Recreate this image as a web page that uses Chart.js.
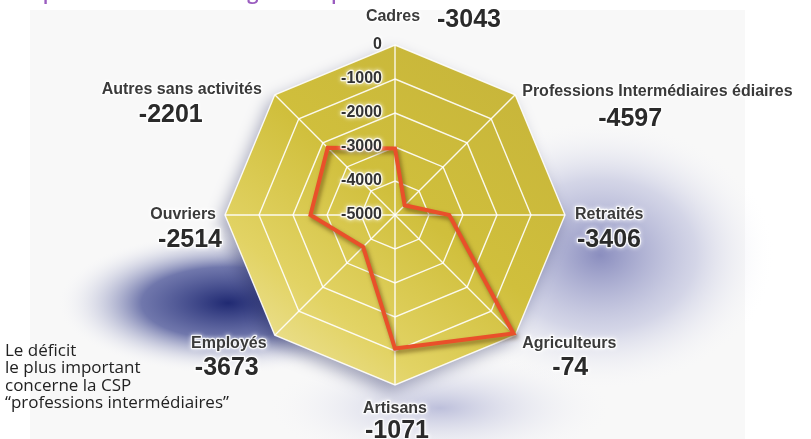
<!DOCTYPE html>
<html>
<head>
<meta charset="utf-8">
<script src="https://cdn.jsdelivr.net/npm/chart.js@4.4.1/dist/chart.umd.min.js"></script>
<style>
  html, body { margin: 0; padding: 0; background: #fff; }
  #wrap { width: 811px; height: 439px; position: relative; }
</style>
</head>
<body>
<div id="wrap"><canvas id="myChart" width="811" height="439"></canvas></div>
<script>
// categories (clockwise from the top) and their balance
var categories = ['Cadres', 'Professions Intermédiaires édiaires', 'Retraités', 'Agriculteurs',
                  'Artisans', 'Employés', 'Ouvriers', 'Autres sans activités']
var soldes = [-3043, -4597, -3406, -74, -1071, -3673, -2514, -2201]
var scaleMin = -5000
var scaleMax = 0
var scaleStep = 1000

var title = 'Répartition du solde migratoire par CSP'
var note = ['Le déficit', 'le plus important', 'concerne la CSP', '“professions intermédiaires”']

// where the name / value go, relative to each outer vertex
var labelPos = [
  { nx: -2, ny: -28, na: 'center', vx: 42, vy: -25, va: 'left' },
  { nx: 7, ny: -3, na: 'left', vx: 115, vy: 24, va: 'center', max: 286 },
  { nx: 10, ny: 0, na: 'left', vx: 12, vy: 25, va: 'left' },
  { nx: 7, ny: 8, na: 'left', vx: 55, vy: 33, va: 'center' },
  { nx: 0, ny: 24, na: 'center', vx: 2, vy: 46, va: 'center' },
  { nx: -46, ny: 8, na: 'center', vx: -48, vy: 33, va: 'center' },
  { nx: -9, ny: 0, na: 'right', vx: -3, vy: 25, va: 'right' },
  { nx: -13, ny: -5, na: 'right', vx: -104, vy: 20, va: 'center' }
]

function blob(ctx, x, y, sx, sy, r, stops) {
  ctx.save()
  ctx.translate(x, y)
  ctx.scale(sx, sy)
  var g = ctx.createRadialGradient(0, 0, 0, 0, 0, r)
  stops.forEach(function (s) { g.addColorStop(s[0], s[1]) })
  ctx.fillStyle = g
  ctx.fillRect(-r, -r, 2 * r, 2 * r)
  ctx.restore()
}

function glowText(ctx, txt, x, y, fill, maxW) {
  ctx.save()
  ctx.shadowColor = 'rgba(255,255,255,0.95)'
  ctx.shadowBlur = 4
  ctx.strokeStyle = 'rgba(255,255,255,0.8)'
  ctx.lineWidth = 2.5
  ctx.lineJoin = 'round'
  ctx.strokeText(txt, x, y, maxW)
  ctx.restore()
  ctx.fillStyle = fill
  ctx.fillText(txt, x, y, maxW)
}

var backdrop = {
  id: 'backdrop',
  beforeDraw: function (chart) {
    var ctx = chart.ctx
    var sc = chart.scales.r
    ctx.save()
    ctx.fillStyle = '#ffffff'
    ctx.fillRect(0, 0, chart.width, chart.height)
    ctx.fillStyle = '#f8f8f8'
    ctx.fillRect(30, 10, 715, chart.height - 10)

    // bluish shading behind the octagon
    blob(ctx, 600, 255, 1.4, 1.1, 125, [[0, 'rgba(80,85,160,0.65)'], [0.55, 'rgba(135,140,195,0.32)'], [1, 'rgba(255,255,255,0)']])
    blob(ctx, 440, 408, 3, 1, 60, [[0, 'rgba(130,135,190,0.5)'], [1, 'rgba(255,255,255,0)']])
    blob(ctx, 228, 303, 2.4, 1, 72, [[0, 'rgba(25,35,110,0.97)'], [0.5, 'rgba(55,65,140,0.7)'], [1, 'rgba(255,255,255,0)']])

    // yellow octagon
    var n = categories.length
    ctx.beginPath()
    for (var i = 0; i < n; i++) {
      var p = sc.getPointPosition(i, sc.drawingArea)
      if (i == 0) ctx.moveTo(p.x, p.y)
      else ctx.lineTo(p.x, p.y)
    }
    ctx.closePath()
    var g = ctx.createLinearGradient(sc.xCenter + 120, sc.yCenter - 170, sc.xCenter - 140, sc.yCenter + 170)
    g.addColorStop(0, '#c6b43a')
    g.addColorStop(0.45, '#d0bf3c')
    g.addColorStop(0.75, '#e2d364')
    g.addColorStop(1, '#f0e6a6')
    ctx.shadowColor = 'rgba(30,35,90,0.4)'
    ctx.shadowBlur = 16
    ctx.shadowOffsetX = -5
    ctx.shadowOffsetY = 7
    ctx.fillStyle = g
    ctx.fill()
    ctx.restore()

    // cut-off title
    ctx.save()
    ctx.font = '600 21px "Open Sans"'
    ctx.fillStyle = '#9a5cbf'
    ctx.textBaseline = 'alphabetic'
    ctx.textAlign = 'left'
    ctx.fillText(title, 18, -1, 388)
    ctx.restore()
  },
  beforeDatasetsDraw: function (chart) {
    var ctx = chart.ctx
    ctx.save()
    ctx.shadowColor = 'rgba(70,40,0,0.55)'
    ctx.shadowBlur = 4
    ctx.shadowOffsetX = 2
    ctx.shadowOffsetY = 3
  },
  afterDatasetsDraw: function (chart) {
    chart.ctx.restore()
  },
  afterDraw: function (chart) {
    var ctx = chart.ctx
    var sc = chart.scales.r
    ctx.save()
    ctx.textBaseline = 'middle'

    // scale values, left of the vertical axis
    ctx.font = 'bold 16px "Liberation Sans", Arial, sans-serif'
    ctx.textAlign = 'right'
    sc.ticks.forEach(function (t) {
      var d = sc.getDistanceFromCenterForValue(t.value)
      glowText(ctx, String(t.value), sc.xCenter - 13, sc.yCenter - d, '#333')
    })

    for (var i = 0; i < categories.length; i++) {
      var p = sc.getPointPosition(i, sc.drawingArea)
      var L = labelPos[i]
      ctx.font = 'bold 16px "Liberation Sans", Arial, sans-serif'
      ctx.textAlign = L.na
      glowText(ctx, categories[i], p.x + L.nx, p.y + L.ny, '#3a3a3a', L.max)

      ctx.font = 'bold 25px "Liberation Sans", Arial, sans-serif'
      ctx.textAlign = L.va
      glowText(ctx, String(soldes[i]), p.x + L.vx, p.y + L.vy, '#2a2a2a')
    }

    // side note
    ctx.font = '17px "Open Sans", sans-serif'
    ctx.fillStyle = '#222'
    ctx.textAlign = 'left'
    ctx.textBaseline = 'middle'
    note.forEach(function (line, k) {
      ctx.fillText(line, 5, 351 + k * 17.5)
    })
    ctx.restore()
  }
}

var ctx = document.getElementById('myChart').getContext('2d')
var chart = new Chart(ctx, {
  type: 'radar',
  data: {
    labels: categories,
    datasets: [{
      label: 'Solde',
      data: soldes,
      fill: false,
      borderColor: '#e9502a',
      borderWidth: 4,
      borderJoinStyle: 'miter',
      pointRadius: 0,
      tension: 0
    }]
  },
  options: {
    responsive: false,
    animation: false,
    events: [],
    layout: { padding: { top: 45, bottom: 54, left: 102, right: 123 } },
    plugins: {
      legend: { display: false },
      tooltip: { enabled: false }
    },
    scales: {
      r: {
        min: scaleMin,
        max: scaleMax,
        ticks: {
          stepSize: scaleStep,
          display: false
        },
        grid: { color: 'rgba(255,255,255,0.9)', lineWidth: 1.4 },
        angleLines: { color: 'rgba(255,255,255,0.9)', lineWidth: 1.4 },
        pointLabels: { display: false }
      }
    }
  },
  plugins: [backdrop]
})
</script>
</body>
</html>
